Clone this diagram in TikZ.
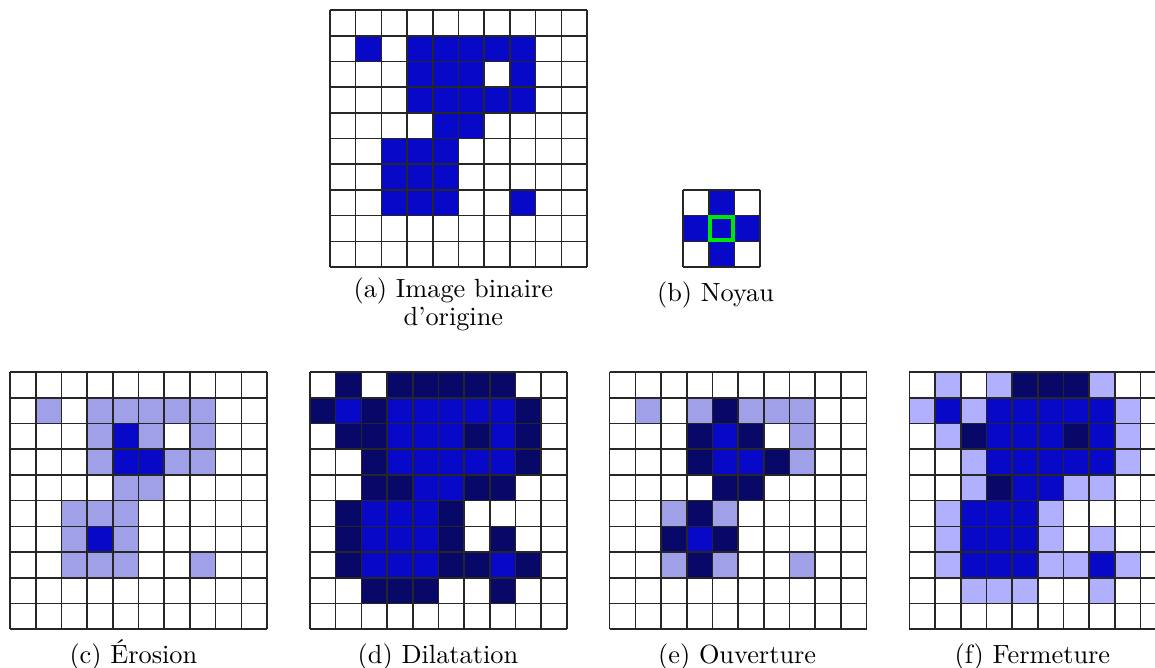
\documentclass[tikz,border=0pt]{standalone}
\usepackage{fontspec}
\usepackage{tikz}
\usetikzlibrary{positioning}

\definecolor{pixon}{RGB}{8,8,200}
\definecolor{pixadd}{RGB}{8,8,104}
\definecolor{pixoff}{RGB}{160,160,232}
\definecolor{pixclo}{RGB}{176,176,255}
\definecolor{kerngreen}{RGB}{0,230,0}

% pixels of the original binary image (row/column)
\newcommand{\origcells}{1/1,1/3,1/4,1/5,1/6,1/7,2/3,2/4,2/5,2/7,3/3,3/4,3/5,3/6,3/7,4/4,4/5,5/2,5/3,5/4,6/2,6/3,6/4,7/2,7/3,7/4,7/7}
\newcommand{\erodedcells}{2/4,3/4,3/5,6/3}

\begin{document}
\begin{tikzpicture}[
    x=9.77pt, y=9.77pt,
    gridline/.style={draw=black!85, line width=0.6pt, step=9.77pt},
    subcap/.style={anchor=base, align=center, font=\fontsize{10}{8.75}\selectfont},
  ]
    \useasboundingbox (-12.84,0.39) rectangle (32.10,-25.60);

    % (a) original image
    \begin{scope}
      \coordinate (ga) at (0,0);
      \foreach \r/\c in \origcells \fill[pixon] (\c,-\r) rectangle ++(1,-1);
      \draw[gridline] (0,0) grid (10,-10);
    \end{scope}
    \node[subcap] (capa) at (4.8,-12.26) {(a) Image binaire\\d'origine};

    % (b) kernel
    \begin{scope}[shift={(13.74,-7)}]
      \coordinate (gb) at (0,0);
      \foreach \r/\c in {0/1,1/0,1/1,1/2,2/1} \fill[pixon] (\c,-\r) rectangle ++(1,-1);
      \draw[gridline] (0,0) grid (3,-3);
      \draw[kerngreen, line width=1.5pt] (1.06,-1.06) rectangle (1.94,-1.94);
    \end{scope}
    \node[subcap] (capb) at (15.0,-11.36) {(b) Noyau};

    % (c) erosion
    \begin{scope}[shift={(-12.45,-14.09)}]
      \coordinate (gc) at (0,0);
      \foreach \r/\c in \origcells \fill[pixoff] (\c,-\r) rectangle ++(1,-1);
      \foreach \r/\c in \erodedcells \fill[pixon] (\c,-\r) rectangle ++(1,-1);
      \draw[gridline] (0,0) grid (10,-10);
    \end{scope}
    \node[subcap] (capc) at (-7.65,-25.41) {(c) Érosion};

    % (d) dilation
    \begin{scope}[shift={(-0.78,-14.09)}]
      \coordinate (gd) at (0,0);
      \foreach \r/\c in {0/1,0/3,0/4,0/5,0/6,0/7,1/0,1/2,1/8,2/1,2/2,2/6,2/8,3/2,3/8,4/2,4/3,4/6,4/7,5/1,5/5,6/1,6/5,6/7,7/1,7/5,7/6,7/8,8/2,8/3,8/4,8/7}
        \fill[pixadd] (\c,-\r) rectangle ++(1,-1);
      \foreach \r/\c in \origcells \fill[pixon] (\c,-\r) rectangle ++(1,-1);
      \draw[gridline] (0,0) grid (10,-10);
    \end{scope}
    \node[subcap] (capd) at (4.2,-25.41) {(d) Dilatation};

    % (e) opening
    \begin{scope}[shift={(10.88,-14.09)}]
      \coordinate (ge) at (0,0);
      \foreach \r/\c in \origcells \fill[pixoff] (\c,-\r) rectangle ++(1,-1);
      \foreach \r/\c in {1/4,2/3,2/5,3/3,3/6,4/4,4/5,5/3,6/2,6/4,7/3}
        \fill[pixadd] (\c,-\r) rectangle ++(1,-1);
      \foreach \r/\c in \erodedcells \fill[pixon] (\c,-\r) rectangle ++(1,-1);
      \draw[gridline] (0,0) grid (10,-10);
    \end{scope}
    \node[subcap] (cape) at (15.84,-25.41) {(e) Ouverture};

    % (f) closing
    \begin{scope}[shift={(22.54,-14.09)}]
      \coordinate (gf) at (0,0);
      \foreach \r/\c in {0/1,0/3,0/7,1/0,1/2,1/8,2/1,2/8,3/2,3/8,4/2,4/6,4/7,5/1,5/5,6/1,6/5,6/7,7/1,7/5,7/6,7/8,8/2,8/3,8/4,8/7}
        \fill[pixclo] (\c,-\r) rectangle ++(1,-1);
      \foreach \r/\c in {0/4,0/5,0/6,2/2,2/6,4/3}
        \fill[pixadd] (\c,-\r) rectangle ++(1,-1);
      \foreach \r/\c in \origcells \fill[pixon] (\c,-\r) rectangle ++(1,-1);
      \draw[gridline] (0,0) grid (10,-10);
    \end{scope}
    \node[subcap] (capf) at (27.33,-25.41) {(f) Fermeture};

  \end{tikzpicture}
\end{document}
